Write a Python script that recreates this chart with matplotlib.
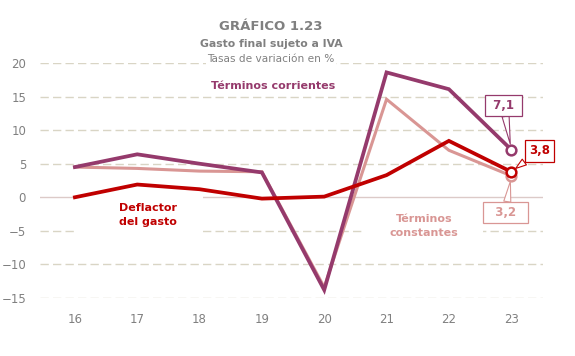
import matplotlib.pyplot as plt
from matplotlib.patches import Rectangle

# datos
years = [16, 17, 18, 19, 20, 21, 22, 23]
year_labels = ['16', '17', '18', '19', '20', '21', '22', '23']
corrientes = [4.5, 6.4, 5.0, 3.7, -13.8, 18.6, 16.1, 7.1]
constantes = [4.5, 4.3, 3.9, 3.8, -13.4, 14.6, 7.0, 3.2]
deflactor = [0.0, 1.9, 1.2, -0.2, 0.1, 3.3, 8.4, 3.8]
y_ticks = [-15, -10, -5, 0, 5, 10, 15, 20]

c_corr = '#953a6c'
c_cons = '#d99694'
c_defl = '#c00000'
grey = '#808080'

plt.rcParams['font.family'] = 'DejaVu Sans'

fig = plt.figure(figsize=(5.75, 3.56), dpi=100)
ax = fig.add_axes([40 / 575, 58 / 356, 503 / 575, 235 / 356])
ax.set_xlim(15.44, 23.51)
ax.set_ylim(-15, 20)

# rejilla
for v in y_ticks:
    if v == 0:
        ax.axhline(v, color='#dccac8', lw=1, zorder=1)
    else:
        ax.axhline(v, color='#d9d5c5', lw=1, ls=(0, (6, 3)), zorder=1)

# fondos blancos de las etiquetas (tapan la rejilla)
ax.add_patch(Rectangle((15.99, -6.4), 2.06, 7.3, fc='white', ec='none', zorder=2))
ax.add_patch(Rectangle((20.65, -6.4), 1.9, 5.2, fc='white', ec='none', zorder=2))

ax.plot(years, constantes, color=c_cons, lw=2.2, zorder=3, solid_joinstyle='miter')
ax.plot(years, corrientes, color=c_corr, lw=2.7, zorder=4, solid_joinstyle='miter')
ax.plot(years, deflactor, color=c_defl, lw=2.7, zorder=5, solid_joinstyle='miter')

# marcadores finales
ax.plot(years[-1], constantes[-1], 'o', ms=7, mfc='white', mec=c_cons, mew=1.8, zorder=6, clip_on=False)
ax.plot(years[-1], corrientes[-1], 'o', ms=7, mfc='white', mec=c_corr, mew=1.8, zorder=6, clip_on=False)
ax.plot(years[-1], deflactor[-1], 'o', ms=7, mfc='white', mec=c_defl, mew=1.8, zorder=7, clip_on=False)

ax.set_yticks(y_ticks)
ax.set_xticks(years)
ax.set_xticklabels(year_labels)
ax.tick_params(length=0, colors=grey, labelsize=8.5)
ax.tick_params(axis='x', pad=11)
ax.tick_params(axis='y', pad=10)
for s in ax.spines.values():
    s.set_visible(False)

# etiquetas de series
ax.text(19.18, 16.6, 'Términos corrientes', color=c_corr, fontsize=8, fontweight='bold',
        ha='center', va='center', zorder=8)
ax.text(16.7, -2.6, 'Deflactor\ndel gasto', color=c_defl, fontsize=8, fontweight='bold',
        ha='left', va='center', linespacing=1.55, zorder=8)
ax.text(21.6, -4.3, 'Términos\nconstantes', color=c_cons, fontsize=8, fontweight='bold',
        ha='center', va='center', linespacing=1.55, zorder=8)

# etiquetas de valor
def callout(label, x, y, tx, ty, col):
    ax.annotate(label, xy=(x, y), xytext=(tx, ty),
                color=col, fontsize=8.5, fontweight='bold', ha='center', va='center',
                bbox=dict(boxstyle='square,pad=0.35', fc='white', ec=col, lw=0.9),
                arrowprops=dict(arrowstyle='wedge,tail_width=0.6', fc='white', ec=col, lw=0.8,
                                shrinkA=0, shrinkB=4),
                zorder=9, annotation_clip=False)

callout(' 7,1 ', years[-1], corrientes[-1], 22.88, 13.7, c_corr)
callout('3,8', years[-1], deflactor[-1], 23.45, 6.9, c_defl)
callout('  3,2  ', years[-1], constantes[-1], 22.91, -2.3, c_cons)

# títulos
fig.text(271 / 575, 1 - 27 / 356, 'GRÁFICO 1.23', color=grey, fontsize=9.5, fontweight='bold',
         ha='center', va='center')
fig.text(271 / 575, 1 - 44 / 356, 'Gasto final sujeto a IVA', color=grey, fontsize=7.8,
         fontweight='bold', ha='center', va='center')
fig.text(271 / 575, 1 - 59 / 356, 'Tasas de variación en %', color=grey, fontsize=7.6,
         ha='center', va='center', zorder=10,
         bbox=dict(fc='white', ec='none', pad=1))

fig.savefig('out.png', dpi=100)
